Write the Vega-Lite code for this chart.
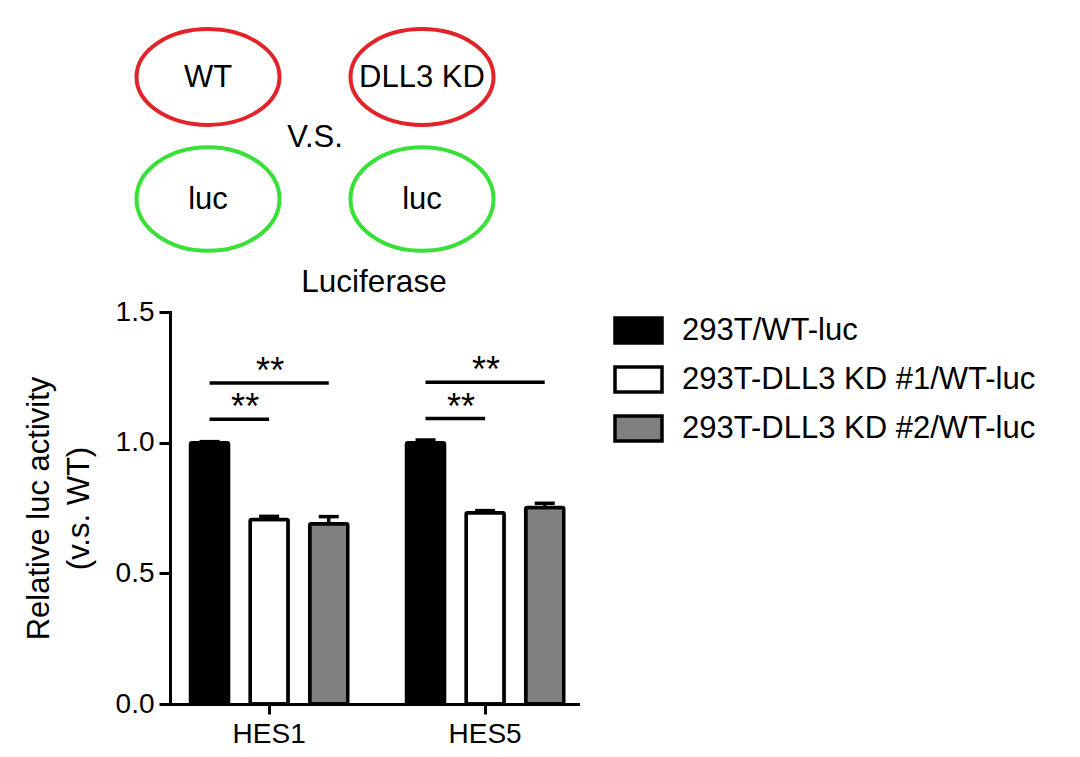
{
  "$schema": "https://vega.github.io/schema/vega-lite/v6.json",
  "width": 408,
  "height": 392,
  "autosize": {"type": "none"},
  "padding": {"left": 170, "top": 312, "right": 502, "bottom": 53},
  "background": "white",
  "title": {"text": "Luciferase", "fontSize": 31.5, "font": "Liberation Sans", "fontWeight": "normal", "color": "black", "offset": -302, "baseline": "alphabetic", "anchor": "middle", "frame": "group"},
  "datasets": {
    "bars": [
      {"gene": "HES1", "group": "293T/WT-luc", "value": 1.0, "hi": 1.004},
      {"gene": "HES1", "group": "293T-DLL3 KD #1/WT-luc", "value": 0.706, "hi": 0.718},
      {"gene": "HES1", "group": "293T-DLL3 KD #2/WT-luc", "value": 0.69, "hi": 0.717},
      {"gene": "HES5", "group": "293T/WT-luc", "value": 1.0, "hi": 1.01},
      {"gene": "HES5", "group": "293T-DLL3 KD #1/WT-luc", "value": 0.732, "hi": 0.74},
      {"gene": "HES5", "group": "293T-DLL3 KD #2/WT-luc", "value": 0.752, "hi": 0.768}
    ],
    "brackets": [
      {"gene": "HES1", "pair": "HES1 WT vs KD1", "group": "293T/WT-luc", "y": 1.09},
      {"gene": "HES1", "pair": "HES1 WT vs KD1", "group": "293T-DLL3 KD #1/WT-luc", "y": 1.09},
      {"gene": "HES1", "pair": "HES1 WT vs KD2", "group": "293T/WT-luc", "y": 1.228},
      {"gene": "HES1", "pair": "HES1 WT vs KD2", "group": "293T-DLL3 KD #2/WT-luc", "y": 1.228},
      {"gene": "HES5", "pair": "HES5 WT vs KD1", "group": "293T/WT-luc", "y": 1.092},
      {"gene": "HES5", "pair": "HES5 WT vs KD1", "group": "293T-DLL3 KD #1/WT-luc", "y": 1.092},
      {"gene": "HES5", "pair": "HES5 WT vs KD2", "group": "293T/WT-luc", "y": 1.231},
      {"gene": "HES5", "pair": "HES5 WT vs KD2", "group": "293T-DLL3 KD #2/WT-luc", "y": 1.231}
    ],
    "stars": [
      {"gene": "HES1", "group": "293T-DLL3 KD #1/WT-luc", "y": 1.09, "label": "**", "level": "low"},
      {"gene": "HES1", "group": "293T-DLL3 KD #1/WT-luc", "y": 1.228, "label": "**", "level": "high"},
      {"gene": "HES5", "group": "293T-DLL3 KD #1/WT-luc", "y": 1.092, "label": "**", "level": "low"},
      {"gene": "HES5", "group": "293T-DLL3 KD #1/WT-luc", "y": 1.231, "label": "**", "level": "high"}
    ],
    "diagram": [
      {"item": "WT", "col": 1, "row": 1, "kind": "cells"},
      {"item": "DLL3 KD", "col": 2, "row": 1, "kind": "cells"},
      {"item": "luc", "col": 1, "row": 2, "kind": "reporter"},
      {"item": "luc", "col": 2, "row": 2, "kind": "reporter"}
    ],
    "vs": [
      {"item": "V.S.", "col": 1.5, "row": 1.5}
    ]
  },
  "layer": [
    {
      "layer": [
        {
          "data": {"name": "bars"},
          "mark": {"type": "bar", "stroke": "black", "strokeWidth": 3.5, "cornerRadius": 1.5},
          "encoding": {
            "x": {"field": "gene", "type": "nominal",
                  "scale": {"paddingInner": 0.272, "paddingOuter": 0.0805, "align": 0.59},
                  "axis": {"title": null, "labelAngle": 0, "domainWidth": 3, "tickWidth": 3, "tickSize": 10, "labelFontSize": 28, "labelPadding": 6}},
            "xOffset": {"field": "group", "type": "nominal",
                  "scale": {"domain": ["293T/WT-luc", "293T-DLL3 KD #1/WT-luc", "293T-DLL3 KD #2/WT-luc"], "paddingInner": 0.362, "paddingOuter": 0}},
            "y": {"field": "value", "type": "quantitative",
                  "scale": {"domain": [0, 1.5], "nice": false, "zero": true},
                  "axis": {"values": [0, 0.5, 1, 1.5], "format": ".1f", "title": ["Relative luc activity", "(v.s. WT)"], "titleFontSize": 31, "titleFontWeight": "normal", "titleLineHeight": 40, "titlePadding": 20, "domainWidth": 3, "tickWidth": 3, "tickSize": 11, "labelFontSize": 28, "labelPadding": 5}},
            "fill": {"field": "group", "type": "nominal",
                  "scale": {"domain": ["293T/WT-luc", "293T-DLL3 KD #1/WT-luc", "293T-DLL3 KD #2/WT-luc"], "range": ["black", "white", "#808080"]},
                  "legend": {"orient": "none", "legendX": 443, "legendY": -7, "title": null, "padding": 0,
                             "symbolType": "M-1,-0.53H1V0.53H-1Z", "symbolSize": 2209, "symbolStrokeColor": "black", "symbolStrokeWidth": 3.5, "symbolOpacity": 1,
                             "labelFontSize": 31, "labelFont": "Liberation Sans", "labelColor": "black", "labelOffset": 18, "rowPadding": 4, "labelLimit": 1000}}
          }
        },
        {
          "data": {"name": "bars"},
          "mark": {"type": "rule", "stroke": "black", "strokeWidth": 3.5},
          "encoding": {
            "x": {"field": "gene", "type": "nominal"},
            "xOffset": {"field": "group", "type": "nominal"},
            "y": {"field": "value", "type": "quantitative", "scale": {"domain": [0, 1.5], "nice": false}},
            "y2": {"field": "hi"}
          }
        },
        {
          "data": {"name": "bars"},
          "mark": {"type": "tick", "color": "black", "thickness": 3.5, "size": 20, "orient": "horizontal", "opacity": 1},
          "encoding": {
            "x": {"field": "gene", "type": "nominal"},
            "xOffset": {"field": "group", "type": "nominal"},
            "y": {"field": "hi", "type": "quantitative", "scale": {"domain": [0, 1.5], "nice": false}}
          }
        },
        {
          "data": {"name": "brackets"},
          "mark": {"type": "line", "stroke": "black", "strokeWidth": 3.5},
          "encoding": {
            "x": {"field": "gene", "type": "nominal"},
            "xOffset": {"field": "group", "type": "nominal"},
            "y": {"field": "y", "type": "quantitative", "scale": {"domain": [0, 1.5], "nice": false}},
            "detail": {"field": "pair", "type": "nominal"}
          }
        },
        {
          "data": {"name": "stars"},
          "transform": [{"filter": "datum.level === 'low'"}],
          "mark": {"type": "text", "fontSize": 36, "font": "Liberation Sans", "baseline": "alphabetic", "align": "center", "dx": -24, "dy": 0, "color": "black"},
          "encoding": {
            "x": {"field": "gene", "type": "nominal"},
            "xOffset": {"field": "group", "type": "nominal"},
            "y": {"field": "y", "type": "quantitative", "scale": {"domain": [0, 1.5], "nice": false}},
            "text": {"field": "label"}
          }
        },
        {
          "data": {"name": "stars"},
          "transform": [{"filter": "datum.level === 'high'"}],
          "mark": {"type": "text", "fontSize": 36, "font": "Liberation Sans", "baseline": "alphabetic", "align": "center", "dx": 1, "dy": 0, "color": "black"},
          "encoding": {
            "x": {"field": "gene", "type": "nominal"},
            "xOffset": {"field": "group", "type": "nominal"},
            "y": {"field": "y", "type": "quantitative", "scale": {"domain": [0, 1.5], "nice": false}},
            "text": {"field": "label"}
          }
        }
      ]
    },
    {
      "layer": [
        {
          "data": {"name": "diagram"},
          "mark": {"type": "point", "filled": false, "strokeWidth": 4, "size": 20449, "opacity": 1},
          "encoding": {
            "x": {"field": "col", "type": "quantitative", "scale": {"domain": [1, 2], "range": [38, 252]}, "axis": null},
            "y": {"field": "row", "type": "quantitative", "scale": {"domain": [1, 2], "range": [-235, -113]}, "axis": null},
            "stroke": {"field": "kind", "type": "nominal", "scale": {"domain": ["cells", "reporter"], "range": ["#e3232a", "#38e038"]}, "legend": null},
            "shape": {"field": "kind", "type": "nominal", "scale": {"domain": ["cells", "reporter"], "range": [
              "M-1,0C-1,-0.37,-0.5523,-0.67,0,-0.67C0.5523,-0.67,1,-0.37,1,0C1,0.37,0.5523,0.67,0,0.67C-0.5523,0.67,-1,0.37,-1,0Z",
              "M-1,0C-1,-0.4,-0.5523,-0.725,0,-0.725C0.5523,-0.725,1,-0.4,1,0C1,0.4,0.5523,0.725,0,0.725C-0.5523,0.725,-1,0.4,-1,0Z"
            ]}, "legend": null}
          }
        },
        {
          "data": {"name": "diagram"},
          "mark": {"type": "text", "fontSize": 31, "font": "Liberation Sans", "baseline": "middle", "align": "center", "color": "black", "dy": 1},
          "encoding": {
            "x": {"field": "col", "type": "quantitative"},
            "y": {"field": "row", "type": "quantitative"},
            "text": {"field": "item"}
          }
        },
        {
          "data": {"name": "vs"},
          "mark": {"type": "text", "fontSize": 31, "font": "Liberation Sans", "baseline": "middle", "align": "center", "color": "black"},
          "encoding": {
            "x": {"field": "col", "type": "quantitative"},
            "y": {"field": "row", "type": "quantitative"},
            "text": {"field": "item"}
          }
        }
      ]
    }
  ],
  "resolve": {"scale": {"x": "independent", "y": "independent"}, "axis": {"x": "independent", "y": "independent"}},
  "config": {
    "view": {"stroke": null},
    "font": "Liberation Sans",
    "axis": {"domainColor": "black", "tickColor": "black", "labelColor": "black", "titleColor": "black", "labelFont": "Liberation Sans", "titleFont": "Liberation Sans", "grid": false, "domainCap": "square"}
  }
}
